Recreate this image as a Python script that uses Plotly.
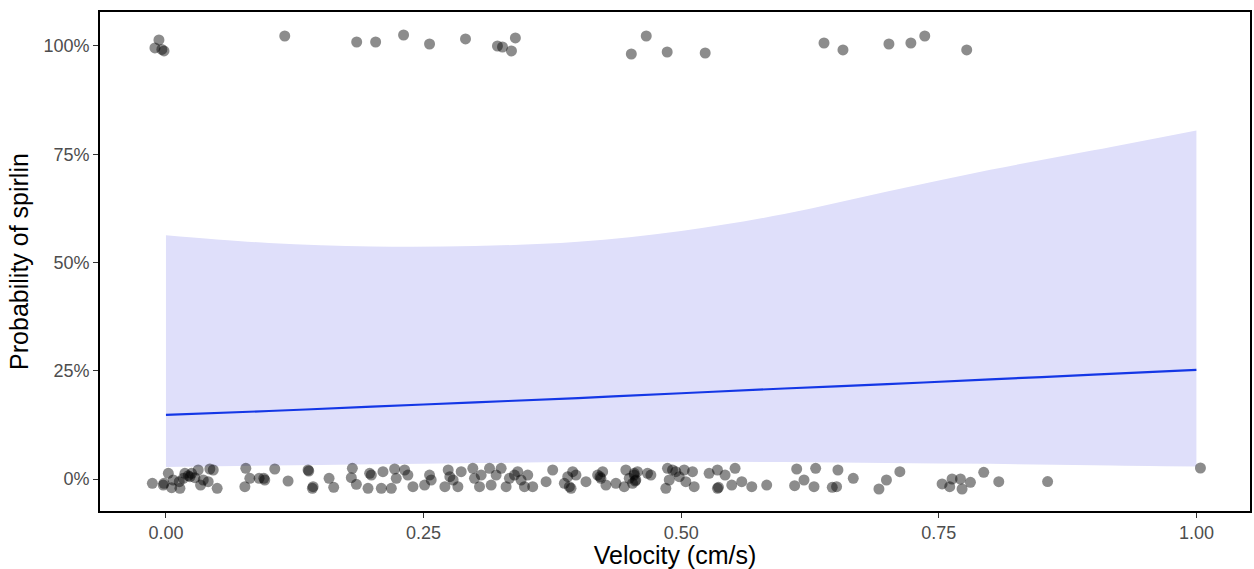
import plotly.graph_objects as go

# Fitted logistic curve with its confidence band
fit_velocity = [0.0, 0.1, 0.2, 0.3, 0.4, 0.5, 0.6, 0.7, 0.8, 0.9, 1.0]
fit_prob = [0.148, 0.157, 0.167, 0.177, 0.187, 0.198, 0.209, 0.219, 0.230, 0.241, 0.252]
band_lower = [0.028, 0.031, 0.034, 0.037, 0.039, 0.040, 0.039, 0.037, 0.035, 0.032, 0.029]
band_upper = [0.563, 0.545, 0.537, 0.538, 0.548, 0.573, 0.612, 0.664, 0.714, 0.759, 0.805]

# Observations with spirlin present (jittered around 1)
present_velocity = [-0.0068, -0.0107, -0.0019, -0.004, 0.1153, 0.1851, 0.2035, 0.2306,
                    0.2558, 0.2907, 0.3217, 0.3266, 0.3391, 0.3353, 0.4516, 0.4661,
                    0.4864, 0.5233, 0.6386, 0.6570, 0.7016, 0.7229, 0.7364, 0.7771]
present_prob = [1.0139, 0.9954, 0.9885, 0.992, 1.0231, 1.0092, 1.0092, 1.0254,
                1.0046, 1.0162, 1.0000, 0.9977, 1.0185, 0.9885, 0.9815, 1.0231,
                0.9861, 0.9838, 1.0069, 0.9908, 1.0046, 1.0069, 1.0231, 0.9908]

# Observations with spirlin absent (jittered around 0)
absent_velocity = [
    -0.0132, -0.0026, 0.0023, 0.0055, 0.0071, 0.0129, 0.0136, 0.0168, 0.0184, 0.0233,
    0.0249, 0.0281, 0.0313, 0.0336, 0.0362, 0.0410, 0.0426, 0.0459, 0.0497, 0.0766,
    0.0775, 0.0814, 0.0904, 0.0959, 0.1056, 0.1185, 0.1379, 0.1421, 0.1583, 0.1628,
    0.1809, 0.1799, 0.1848, 0.0216, -0.0019, 0.1428, 0.0950, 0.1386,
    0.1977, 0.1961, 0.1993, 0.2090, 0.2106, 0.2187, 0.2219, 0.2235, 0.2316, 0.2348,
    0.2397, 0.2510, 0.2558, 0.2574, 0.2707, 0.2739, 0.2755, 0.2787, 0.2833, 0.2865,
    0.2978, 0.2994, 0.3043, 0.3059, 0.3140, 0.3156, 0.3204, 0.3253, 0.3301, 0.3333,
    0.3382, 0.3414, 0.3446, 0.3479, 0.3511, 0.3559, 0.3689, 0.3753, 0.3866, 0.3899,
    0.3915,
    0.3947, 0.3931, 0.3979, 0.4076, 0.4189, 0.4221, 0.4238, 0.4270, 0.4367, 0.4447,
    0.4463, 0.4496, 0.4528, 0.4544, 0.4560, 0.4576, 0.4673, 0.4706, 0.4851, 0.4867,
    0.4884, 0.4916, 0.4948, 0.4981, 0.5029, 0.5045, 0.5110, 0.5126, 0.5271, 0.5352,
    0.5352, 0.5362, 0.5426, 0.5491, 0.5523, 0.5588, 0.5685, 0.5830, 0.4212, 0.4554,
    0.4544,
    0.6121, 0.6101, 0.6192, 0.6305, 0.6289, 0.6466, 0.6508, 0.6521, 0.6670, 0.6919,
    0.6992, 0.7122, 0.7532, 0.7606, 0.7629, 0.7710, 0.7726, 0.7807, 0.7936, 0.8082,
    0.8556, 1.0039,
]
absent_prob = [
    -0.0100, -0.0139, 0.0131, -0.0200, -0.0023, -0.0062, -0.0216, 0.0015, 0.0131, 0.0054,
    0.0131, 0.0031, 0.0208, -0.0139, -0.0023, -0.0062, 0.0231, 0.0208, -0.0216, -0.0177,
    0.0246, 0.0015, 0.0015, -0.0023, 0.0231, -0.0046, 0.0208, -0.0216, 0.0015, -0.0192,
    0.0246, 0.0031, -0.0123, 0.0077, -0.0100, -0.0177, 0.0015, 0.0185,
    0.0131, -0.0216, 0.0092, -0.0216, 0.0169, -0.0216, 0.0231, 0.0015, 0.0208, 0.0092,
    -0.0177, -0.0139, 0.0092, -0.0023, -0.0177, 0.0208, 0.0054, -0.0023, -0.0177, 0.0169,
    0.0246, 0.0015, -0.0177, 0.0092, 0.0246, -0.0139, 0.0092, 0.0246, -0.0177, 0.0015,
    0.0092, 0.0169, -0.0023, -0.0177, 0.0092, -0.0177, -0.0062, 0.0208, -0.0100, 0.0054,
    -0.0177,
    0.0169, -0.0216, 0.0092, -0.0062, 0.0092, 0.0015, 0.0169, -0.0139, -0.0100, -0.0177,
    0.0208, 0.0015, -0.0100, 0.0131, -0.0023, 0.0169, 0.0131, 0.0092, -0.0216, 0.0246,
    -0.0023, 0.0208, 0.0169, 0.0054, 0.0208, -0.0062, 0.0169, -0.0177, 0.0131, 0.0208,
    -0.0216, -0.0192, 0.0092, -0.0139, 0.0246, -0.0062, -0.0177, -0.0139, 0.0054, -0.0046,
    0.0092,
    0.0231, -0.0154, -0.0023, 0.0246, -0.0177, -0.0192, -0.0177, 0.0208, 0.0015, -0.0231,
    -0.0023, 0.0169, -0.0115, -0.0177, 0.0000, 0.0000, -0.0231, -0.0077, 0.0154, -0.0062,
    -0.0060, 0.0254,
]

x_ticks = [0.0, 0.25, 0.5, 0.75, 1.0]
x_tick_labels = ["0.00", "0.25", "0.50", "0.75", "1.00"]
y_ticks = [0.0, 0.25, 0.5, 0.75, 1.0]
y_tick_labels = ["0%", "25%", "50%", "75%", "100%"]

FONT = "Liberation Sans, Arial, sans-serif"

fig = go.Figure()

# Confidence band (smoothed edges)
fig.add_trace(go.Scatter(x=fit_velocity, y=band_lower, mode="lines",
                         line=dict(width=0, color="rgba(0,0,0,0)", shape="spline"),
                         showlegend=False, hoverinfo="skip"))
fig.add_trace(go.Scatter(x=fit_velocity, y=band_upper, mode="lines",
                         line=dict(width=0, color="rgba(0,0,0,0)", shape="spline"),
                         fill="tonexty", fillcolor="#dfdffa",
                         showlegend=False, hoverinfo="skip"))

# Jittered observations
point_marker = dict(size=11, color="rgba(0,0,0,0.45)", line=dict(width=0))
fig.add_trace(go.Scatter(x=absent_velocity, y=absent_prob, mode="markers",
                         marker=point_marker, showlegend=False))
fig.add_trace(go.Scatter(x=present_velocity, y=present_prob, mode="markers",
                         marker=point_marker, showlegend=False))

# Fitted probability
fig.add_trace(go.Scatter(x=fit_velocity, y=fit_prob, mode="lines",
                         line=dict(color="#1437e6", width=2.2, shape="spline"),
                         showlegend=False))

axis_common = dict(showgrid=False, zeroline=False, showline=True, mirror=True,
                   linecolor="black", linewidth=1.6, ticks="outside", ticklen=5,
                   tickwidth=1.2, tickcolor="#333333",
                   tickfont=dict(family=FONT, size=18, color="#4d4d4d"))

fig.update_layout(
    width=1254, height=569,
    margin=dict(l=100, r=2, t=12, b=58),
    paper_bgcolor="white", plot_bgcolor="white",
    xaxis=dict(range=[-0.064, 1.052], tickvals=x_ticks, ticktext=x_tick_labels,
               title=dict(text="Velocity (cm/s)", standoff=6,
                          font=dict(family=FONT, size=25, color="black")),
               **axis_common),
    yaxis=dict(range=[-0.0739, 1.0785], tickvals=y_ticks, ticktext=y_tick_labels,
               title=dict(text="Probability of spirlin", standoff=8,
                          font=dict(family=FONT, size=25, color="black")),
               **axis_common),
)

fig.write_html("out.html")
